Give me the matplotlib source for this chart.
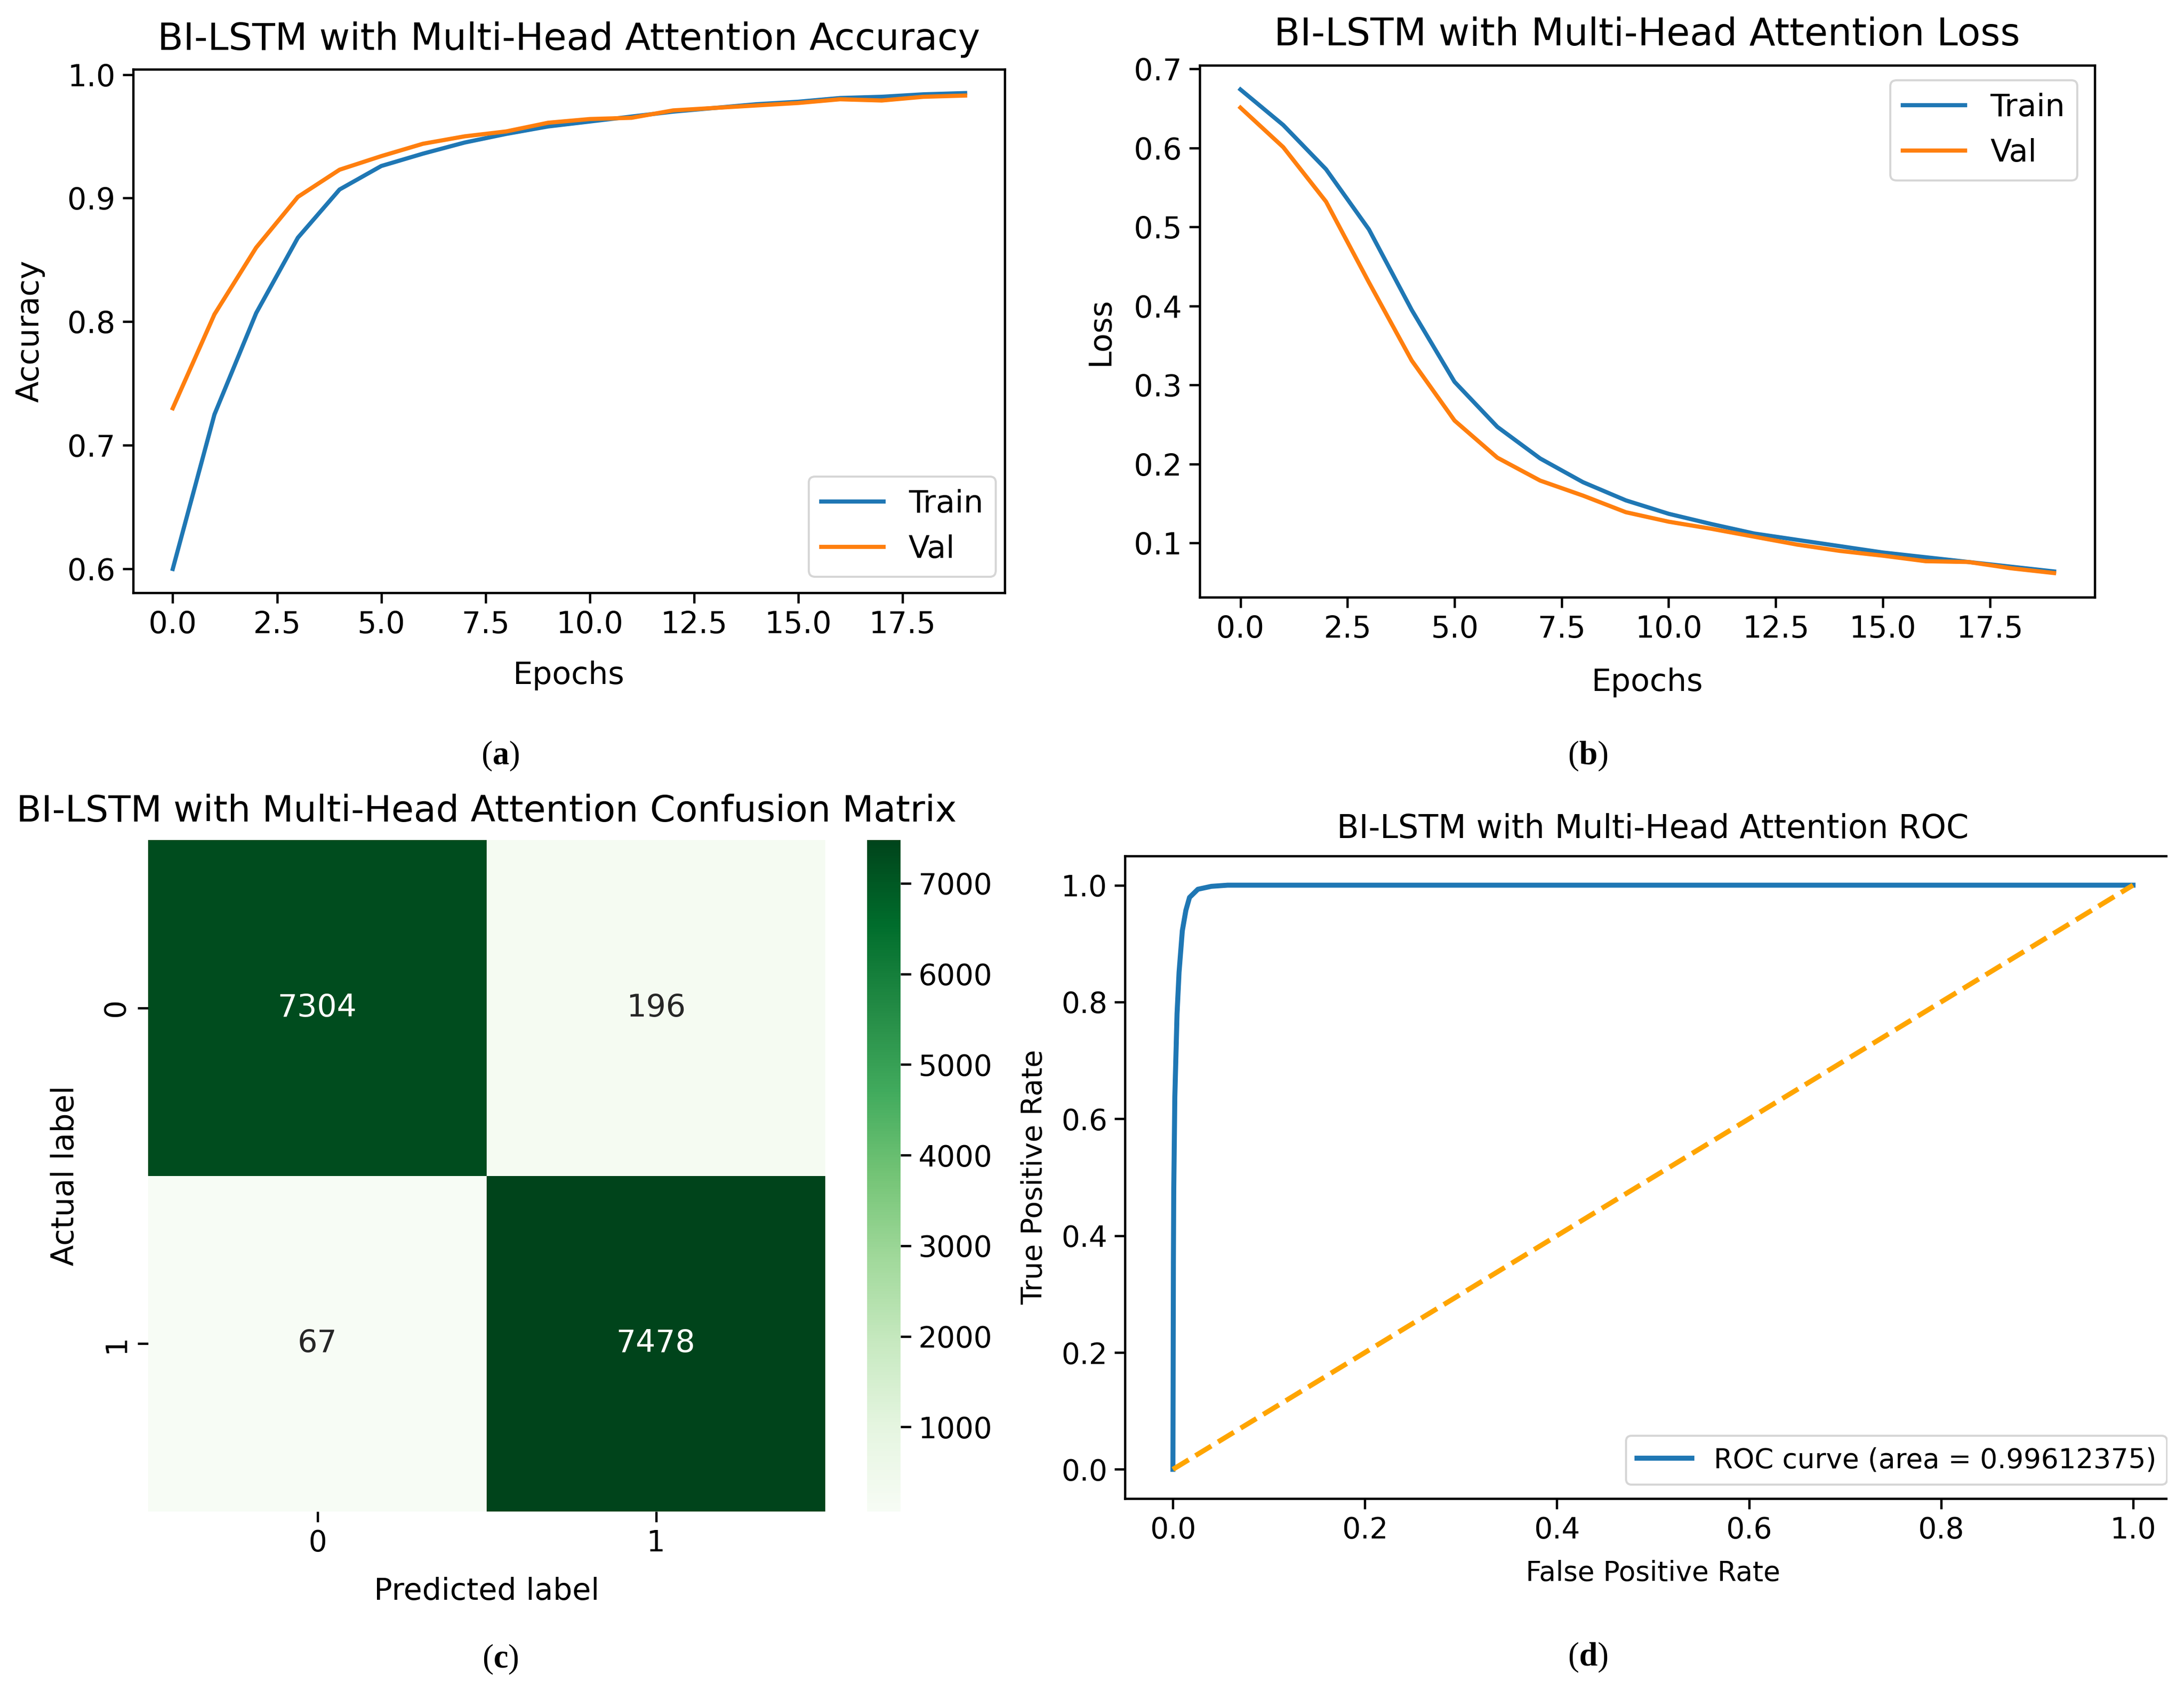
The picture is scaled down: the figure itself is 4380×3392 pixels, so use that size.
import matplotlib
matplotlib.use("Agg")
import matplotlib.pyplot as plt
from matplotlib.patches import Rectangle
import numpy as np
import seaborn as sns

# training history
epochs = list(range(20))
train_acc = [0.600, 0.725, 0.807, 0.868, 0.907, 0.926, 0.936, 0.945, 0.952, 0.958,
             0.962, 0.966, 0.970, 0.973, 0.976, 0.978, 0.981, 0.982, 0.984, 0.985]
val_acc = [0.730, 0.806, 0.860, 0.901, 0.923, 0.934, 0.944, 0.950, 0.954, 0.961,
           0.964, 0.965, 0.971, 0.973, 0.975, 0.977, 0.980, 0.979, 0.982, 0.983]
train_loss = [0.674, 0.629, 0.573, 0.497, 0.395, 0.304, 0.247, 0.207, 0.177, 0.154,
              0.137, 0.124, 0.112, 0.104, 0.096, 0.088, 0.082, 0.076, 0.070, 0.064]
val_loss = [0.651, 0.601, 0.532, 0.430, 0.331, 0.255, 0.208, 0.179, 0.160, 0.139,
            0.127, 0.118, 0.108, 0.098, 0.090, 0.084, 0.077, 0.076, 0.068, 0.062]

# confusion matrix
cm_values = [[7304, 196], [67, 7478]]
class_labels = ['0', '1']

# roc curve
roc_fpr = [0.0, 0.0003, 0.0005, 0.0009, 0.002, 0.0043, 0.0064, 0.0098, 0.0135,
           0.0173, 0.026, 0.040, 0.057, 1.0]
roc_tpr = [0.0, 0.211, 0.354, 0.482, 0.638, 0.780, 0.851, 0.922, 0.957,
           0.979, 0.993, 0.998, 1.0, 1.0]
roc_auc = 0.99612375

plt.rcParams['axes.linewidth'] = 1.1
plt.rcParams['xtick.major.size'] = 5
plt.rcParams['ytick.major.size'] = 5
plt.rcParams['xtick.major.width'] = 1.1
plt.rcParams['ytick.major.width'] = 1.1
plt.rcParams['mathtext.fontset'] = 'custom'
plt.rcParams['mathtext.rm'] = 'Liberation Serif'
plt.rcParams['mathtext.bf'] = 'Liberation Serif:bold'

fig = plt.figure(figsize=(14.6, 11.3067), dpi=300)

# (a) accuracy
ax1 = fig.add_axes([0.06096, 0.64947, 0.39909, 0.30955])
ax1.plot(epochs, train_acc, lw=2.0, label='Train')
ax1.plot(epochs, val_acc, lw=2.0, label='Val')
ax1.set_title('BI-LSTM with Multi-Head Attention Accuracy', fontsize=18, pad=9.4)
ax1.set_xlabel('Epochs', fontsize=15)
ax1.set_ylabel('Accuracy', fontsize=15)
ax1.xaxis.set_label_coords(0.5, -0.1295)
ax1.yaxis.set_label_coords(-0.1007, 0.5)
ax1.tick_params(labelsize=14.5)
ax1.legend(loc='lower right', bbox_to_anchor=(0.9897, 0.0305), borderaxespad=0, fontsize=15)

# (b) loss
ax2 = fig.add_axes([0.54932, 0.64682, 0.40982, 0.31456])
ax2.plot(epochs, train_loss, lw=2.0, label='Train')
ax2.plot(epochs, val_loss, lw=2.0, label='Val')
ax2.set_title('BI-LSTM with Multi-Head Attention Loss', fontsize=18.3, pad=9.6)
ax2.set_xlabel('Epochs', fontsize=15)
ax2.set_ylabel('Loss', fontsize=15)
ax2.xaxis.set_label_coords(0.5, -0.132)
ax2.yaxis.set_label_coords(-0.094, 0.5)
ax2.tick_params(labelsize=14.5)
ax2.legend(loc='upper right', bbox_to_anchor=(0.9805, 0.9719), borderaxespad=0, fontsize=15)

# (c) confusion matrix
ax3 = fig.add_axes([0.06781, 0.10613, 0.31005, 0.39711])
cax = fig.add_axes([0.39703, 0.10613, 0.0153, 0.39711])
sns.heatmap(np.array(cm_values), annot=True, fmt='d', cmap='Greens', ax=ax3, cbar_ax=cax,
            xticklabels=class_labels, yticklabels=class_labels, annot_kws={'size': 15})
ax3.set_title('BI-LSTM with Multi-Head Attention Confusion Matrix', fontsize=17.5, pad=8.9)
ax3.set_xlabel('Predicted label', fontsize=14.6)
ax3.set_ylabel('Actual label', fontsize=14.8)
ax3.xaxis.set_label_coords(0.5, -0.097)
ax3.yaxis.set_label_coords(-0.100, 0.5)
ax3.tick_params(labelsize=14)
cax.tick_params(labelsize=14, length=5, width=1.1)

# (d) roc
ax4 = fig.add_axes([0.51507, 0.11380, 0.48356, 0.38001])
ax4.plot(roc_fpr, roc_tpr, lw=2.4, color='#1f77b4', label='ROC curve (area = %0.8f)' % roc_auc)
ax4.plot([0, 1], [0, 1], color='orange', lw=2.4, linestyle='--')
ax4.set_title('BI-LSTM with Multi-Head Attention ROC', fontsize=15.5, pad=8.6)
ax4.set_xlabel('False Positive Rate', fontsize=13.2)
ax4.set_ylabel('True Positive Rate', fontsize=13.8)
ax4.xaxis.set_label_coords(0.5, -0.095)
ax4.yaxis.set_label_coords(-0.0727, 0.5)
ax4.tick_params(labelsize=14)
ax4.legend(loc='lower right', fontsize=13.2)

# the source image is cut off at the right edge
fig.add_artist(Rectangle((4349 / 4380, 0.10), 1 - 4349 / 4380, 0.40,
                         transform=fig.transFigure, color='white', zorder=10))

# panel captions
for x, y, letter in [(0.229, 0.553, 'a'), (0.727, 0.553, 'b'),
                     (0.229, 0.0189, 'c'), (0.727, 0.0200, 'd')]:
    fig.text(x, y, r'$\mathrm{(}\mathbf{%s}\mathrm{)}$' % letter, fontsize=16,
             ha='center', va='center')

fig.savefig('out.png', dpi=300)
